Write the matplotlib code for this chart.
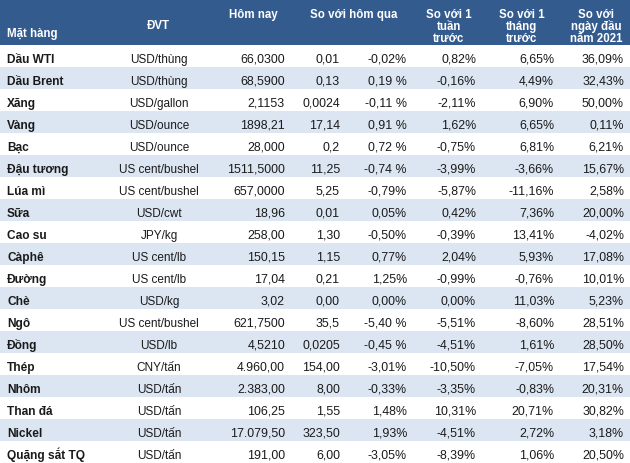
import matplotlib.pyplot as plt

plt.rcParams['font.family'] = ['Liberation Sans', 'DejaVu Sans']

names = ['Dầu WTI', 'Dầu Brent', 'Xăng', 'Vàng', 'Bạc', 'Đậu tương', 'Lúa mì',
         'Sữa', 'Cao su', 'Càphê', 'Đường', 'Chè', 'Ngô', 'Đồng', 'Thép',
         'Nhôm', 'Than đá', 'Nickel', 'Quặng sắt TQ']
units = ['USD/thùng', 'USD/thùng', 'USD/gallon', 'USD/ounce', 'USD/ounce',
         'US cent/bushel', 'US cent/bushel', 'USD/cwt', 'JPY/kg', 'US cent/lb',
         'US cent/lb', 'USD/kg', 'US cent/bushel', 'USD/lb', 'CNY/tấn',
         'USD/tấn', 'USD/tấn', 'USD/tấn', 'USD/tấn']
today = ['66,0300', '68,5900', '2,1153', '1898,21', '28,000', '1511,5000',
         '657,0000', '18,96', '258,00', '150,15', '17,04', '3,02', '621,7500',
         '4,5210', '4.960,00', '2.383,00', '106,25', '17.079,50', '191,00']
d_abs = ['0,01', '0,13', '0,0024', '17,14', '0,2', '11,25', '5,25', '0,01',
         '1,30', '1,15', '0,21', '0,00', '35,5', '0,0205', '154,00', '8,00',
         '1,55', '323,50', '6,00']
d_pct = ['-0,02%', '0,19 %', '-0,11 %', '0,91 %', '0,72 %', '-0,74 %', '-0,79%',
         '0,05%', '-0,50%', '0,77%', '1,25%', '0,00%', '-5,40 %', '-0,45 %',
         '-3,01%', '-0,33%', '1,48%', '1,93%', '-3,05%']
w_pct = ['0,82%', '-0,16%', '-2,11%', '1,62%', '-0,75%', '-3,99%', '-5,87%',
         '0,42%', '-0,39%', '2,04%', '-0,99%', '0,00%', '-5,51%', '-4,51%',
         '-10,50%', '-3,35%', '10,31%', '-4,51%', '-8,39%']
m_pct = ['6,65%', '4,49%', '6,90%', '6,65%', '6,81%', '-3,66%', '-11,16%',
         '7,36%', '13,41%', '5,93%', '-0,76%', '11,03%', '-8,60%', '1,61%',
         '-7,05%', '-0,83%', '20,71%', '2,72%', '1,06%']
y_pct = ['36,09%', '32,43%', '50,00%', '0,11%', '6,21%', '15,67%', '2,58%',
         '20,00%', '-4,02%', '17,08%', '10,01%', '5,23%', '28,51%', '28,50%',
         '17,54%', '20,31%', '30,82%', '3,18%', '20,50%']

HEADER_BG = '#335b8e'
STRIPE = '#dce6f2'
TXT = '#1a1a1a'

fig = plt.figure(figsize=(6.30, 4.63), dpi=100)
ax = fig.add_axes([0, 0, 1, 1])
ax.set_xlim(0, 630)
ax.set_ylim(463, 0)
ax.axis('off')

head_h = 45
row_h = 22

ax.axhspan(0, head_h, color=HEADER_BG, lw=0)
for i in range(len(names)):
    y0 = head_h + i * row_h
    if i % 2 == 1:
        ax.axhspan(y0, y0 + row_h, color=STRIPE, lw=0)

# header, placed on baselines so accents don't shift the text
hk = dict(color='white', fontsize=8.3, fontweight='bold', va='baseline')
ax.text(7, 37, 'Mặt hàng', ha='left', **hk)
ax.text(158, 29, 'ĐVT', ha='center', **hk)
ax.text(253, 18, 'Hôm nay', ha='center', **hk)
ax.text(354, 18, 'So với hôm qua', ha='center', **hk)
for x, lines in [(449, ['So với 1', 'tuần', 'trước']),
                 (522, ['So với 1', 'tháng', 'trước']),
                 (596, ['So với', 'ngày đầu', 'năm 2021'])]:
    for k, s in enumerate(lines):
        ax.text(x, 18 + k * 12, s, ha='center', **hk)

for i in range(len(names)):
    yb = head_h + i * row_h + 18
    ax.text(7, yb, names[i], ha='left', va='baseline', fontsize=8.6,
            fontweight='bold', color=TXT)
    ax.text(159, yb, units[i], ha='center', va='baseline', fontsize=8.5,
            color=TXT)
    for x, col in [(285, today), (340, d_abs), (407, d_pct), (476, w_pct),
                   (554, m_pct), (624, y_pct)]:
        ax.text(x, yb, col[i], ha='right', va='baseline', fontsize=8.9,
                color=TXT)

fig.savefig('out.png', dpi=100)
